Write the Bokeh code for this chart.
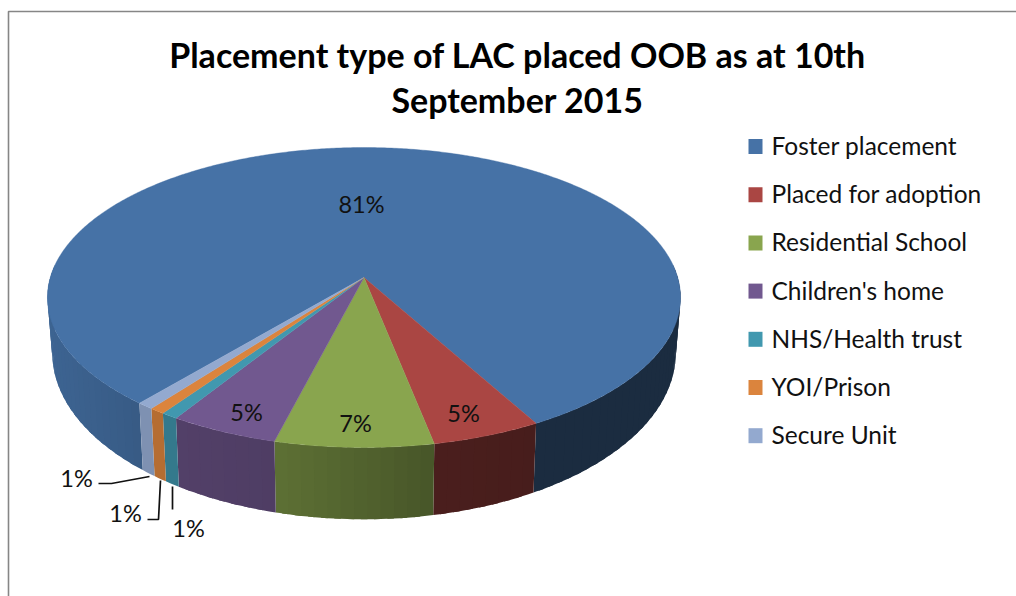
import numpy as np
from bokeh.embed import file_html
from bokeh.models import ColumnDataSource
from bokeh.plotting import figure
from bokeh.resources import INLINE
from bokeh.core.properties import value

# ---- data ----
categories = ["Foster placement", "Placed for adoption", "Residential School",
              "Children's home", "NHS/Health trust", "YOI/Prison", "Secure Unit"]
shares = [80.83, 4.93, 7.12, 4.92, 0.75, 0.69, 0.75]
share_labels = ["81%", "5%", "7%", "5%", "1%", "1%", "1%"]
title_lines = ["Placement type of LAC placed OOB as at 10th", "September 2015"]

# ---- style and layout ----
colors = ["#4672A6", "#AA4643", "#89A54E", "#71588F", "#4198AF", "#DB843D", "#93A9CF"]
label_xy = [(361, 203), (463, 412), (355, 422), (246, 411), (188, 527), (125, 512), (76, 477)]
leaders = [None, None, None, None,
           ([172, 172], [486, 509]),
           ([147, 158, 160], [519, 519, 480]),
           ([98, 111, 149], [483, 483, 476])]
wall_shade = [
    ([47, 140, 400, 680], [0.88, 0.80, 0.39, 0.39]),
    ([434, 535], [0.44, 0.42]),
    ([276, 434], [0.68, 0.52]),
    ([175, 276], [0.73, 0.70]),
    ([162, 175], [0.80, 0.80]),
    ([150, 162], [0.83, 0.83]),
    ([139, 150], [0.86, 0.86]),
]
ROTATION = 220.0
CX, CY, R, S, K = 363.5, 277.0, 313.7, 147.3, 0.1333
SHRINK = 0.985
FONT = "Lato"


def project(theta):
    t = np.radians(theta)
    u, v = np.sin(t), np.cos(t)
    den = 1 + K * v
    return CX + R * u / den, CY - S * v / den


def lower(x, y):
    return CX + (x - CX) * SHRINK, y + 71.5 + 0.11 * (y - 444)


def scaled(c, f):
    r, g, b = int(c[1:3], 16), int(c[3:5], 16), int(c[5:7], 16)
    return "#%02x%02x%02x" % (int(r * f), int(g * f), int(b * f))


p = figure(width=1016, height=596, x_range=(0, 1016), y_range=(596, 0),
           output_backend="svg", toolbar_location=None, min_border=0,
           outline_line_color=None, background_fill_color="white")
p.xaxis.visible = False
p.yaxis.visible = False
p.grid.visible = False

# frame
p.line([1016, 8, 8], [11, 11, 596], line_color="#868686", line_width=1.6)

# angular extent of every slice
fracs = np.array(shares) / sum(shares) * 360
starts = ROTATION + np.concatenate([[0], np.cumsum(fracs)[:-1]])

# side wall, in strips so that the shading can run along it
wx, wy, wc = [], [], []
for i, (a, w) in enumerate(zip(starts, fracs)):
    b = a + w
    for lo, hi in [(85, 275), (445, 635)]:
        s, e = max(a, lo), min(b, hi)
        if e <= s:
            continue
        n = max(1, int((e - s) / 2.0))
        edges = np.linspace(s, e, n + 1)
        step = edges[1] - edges[0]
        for t0, t1 in zip(edges[:-1], edges[1:]):
            # each strip reaches under its neighbour, which hides the seams
            ts = np.linspace(t0, min(t1 + 0.5 * step, e), 4)
            xt, yt = project(ts)
            xb, yb = lower(xt, yt)
            wx.append(list(xt) + list(xb[::-1]))
            wy.append(list(yt) + list(yb[::-1]))
            f = np.interp(xt.mean(), *wall_shade[i])
            wc.append(scaled(colors[i], f))
p.patches("x", "y", source=ColumnDataSource(dict(x=wx, y=wy, c=wc)),
          fill_color="c", line_color=None)

# top face
fx, fy = [], []
for a, w in zip(starts, fracs):
    xs, ys = project(np.linspace(a, a + w, max(3, int(w * 2))))
    fx.append([CX] + list(xs))
    fy.append([CY] + list(ys))
p.patches("x", "y", source=ColumnDataSource(dict(x=fx, y=fy, c=colors)),
          fill_color="c", line_color="c", line_width=0.4)

# labels and their leader lines
for lab, (x, y), lead in zip(share_labels, label_xy, leaders):
    p.text([x], [y], text=[lab], text_font=value(FONT), text_font_size="23.5px",
           text_color="#111111", text_align="center", text_baseline="middle")
    if lead:
        p.line(lead[0], lead[1], line_color="#111111", line_width=1.7)

# title
for line, y in zip(title_lines, [54, 99]):
    p.text([517], [y], text=[line], text_font=value(FONT), text_font_style="bold",
           text_font_size="34px", text_color="black",
           text_align="center", text_baseline="middle")

# legend
for i, (name, col) in enumerate(zip(categories, colors)):
    y = 146 + i * 48.2
    p.rect([755], [y], width=14, height=15, fill_color=col, line_color=None)
    p.text([771], [y - 1], text=[name], text_font=value(FONT), text_font_size="24.5px",
           text_color="#111111", text_align="left", text_baseline="middle")

open("out.html", "w").write(file_html(p, INLINE))
